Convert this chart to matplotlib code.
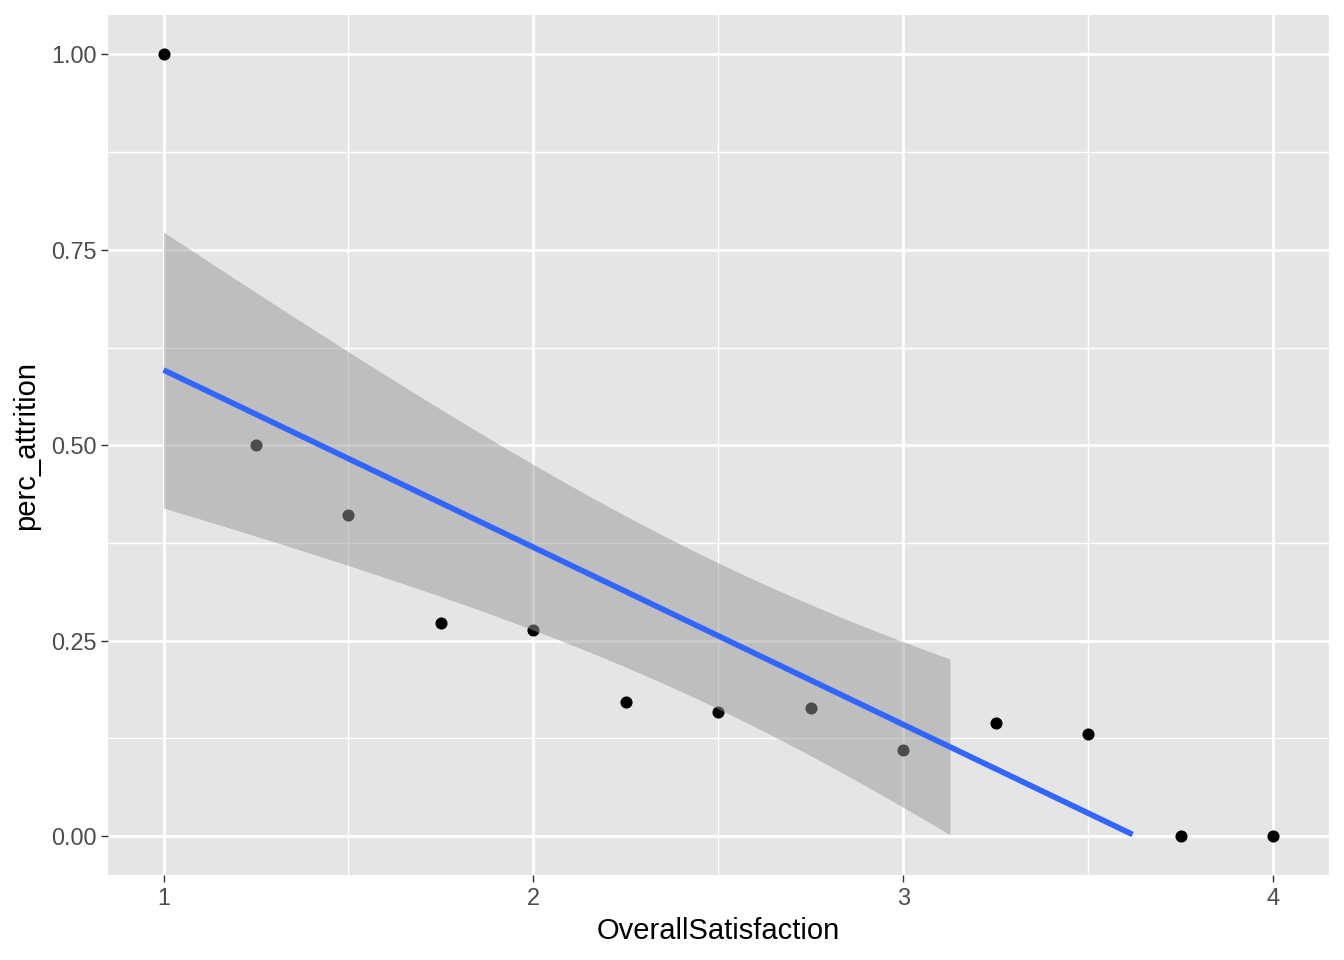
import numpy as np
import matplotlib
matplotlib.use("Agg")
import matplotlib.pyplot as plt

# datos
satisfaccion = [1.0, 1.25, 1.5, 1.75, 2.0, 2.25, 2.5, 2.75, 3.0, 3.25, 3.5, 3.75, 4.0]
perc_attrition = [1.0, 0.5, 0.411, 0.273, 0.264, 0.172, 0.158, 0.164, 0.110, 0.145, 0.131, 0.0, 0.0]

plt.rcParams['font.family'] = ['Liberation Sans', 'DejaVu Sans']

x = np.array(satisfaccion)
y = np.array(perc_attrition)

# regresion lineal (como geom_smooth(method = "lm"))
n = len(x)
pendiente, ordenada = np.polyfit(x, y, 1)
residuos = y - (pendiente * x + ordenada)
s = np.sqrt(np.sum(residuos ** 2) / (n - 2))
sxx = np.sum((x - x.mean()) ** 2)
t_975 = 2.201  # t(0.975, df=11)

xs = np.linspace(x.min(), x.max(), 80)
ajuste = pendiente * xs + ordenada
se = s * np.sqrt(1 / n + (xs - x.mean()) ** 2 / sxx)
inf = ajuste - t_975 * se
sup = ajuste + t_975 * se

# limites 0-1: se quitan los valores fuera de rango
ok_banda = (inf >= 0) & (sup <= 1)
ok_linea = (ajuste >= 0) & (ajuste <= 1)

fig = plt.figure(figsize=(13.44, 9.6), dpi=100)
ax = fig.add_axes([0.0804, 0.0885, 0.9081, 0.8955])
ax.set_facecolor('#E5E5E5')

# grilla estilo ggplot
for v in [1.5, 2.5, 3.5]:
    ax.axvline(v, color='white', linewidth=1.0, zorder=0)
for v in [0.125, 0.375, 0.625, 0.875]:
    ax.axhline(v, color='white', linewidth=1.0, zorder=0)
for v in [1, 2, 3, 4]:
    ax.axvline(v, color='white', linewidth=2.0, zorder=0)
for v in [0, 0.25, 0.5, 0.75, 1.0]:
    ax.axhline(v, color='white', linewidth=2.0, zorder=0)

ax.scatter(x, y, s=76, color='black', linewidths=0, zorder=2)

ax.fill_between(xs[ok_banda], inf[ok_banda], sup[ok_banda],
                color='#999999', alpha=0.5, linewidth=0, zorder=3)
ax.plot(xs[ok_linea], ajuste[ok_linea], color='#3366FF', linewidth=4.1,
        solid_capstyle='butt', zorder=4)

ax.set_xlim(1 - 0.15, 4 + 0.15)
ax.set_ylim(-0.05, 1.05)
ax.set_xticks([1, 2, 3, 4])
ax.set_xticklabels(['1', '2', '3', '4'])
ax.set_yticks([0, 0.25, 0.5, 0.75, 1.0])
ax.set_yticklabels(['0.00', '0.25', '0.50', '0.75', '1.00'])

for lado in ax.spines.values():
    lado.set_visible(False)
ax.tick_params(axis='both', length=5.3, width=1.0, color='#333333',
               labelsize=16.9, labelcolor='#4D4D4D', pad=3)

ax.set_xlabel('OverallSatisfaction', fontsize=21, color='black', labelpad=5)
ax.set_ylabel('perc_attrition', fontsize=21, color='black', labelpad=8)

fig.savefig('out.png', dpi=100)
